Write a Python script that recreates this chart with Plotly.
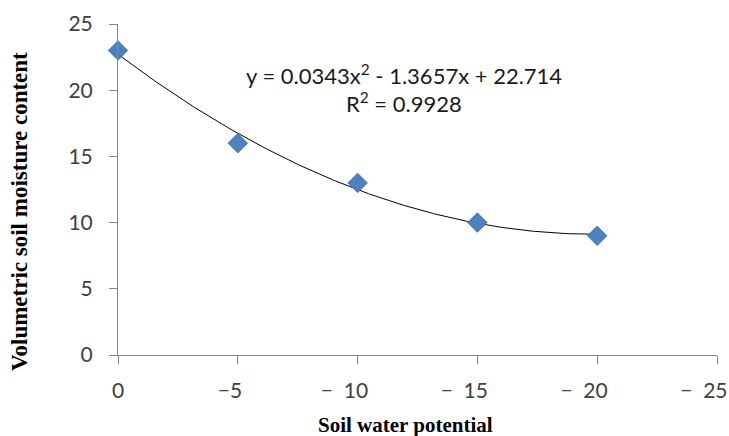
import numpy as np
import plotly.graph_objects as go

# Data
potential = [0, 5, 10, 15, 20]          # magnitude of soil water potential (shown as negative)
moisture = [23, 16, 13, 10, 9]
fit_coef = [0.0343, -1.3657, 22.714]    # trendline y = a x^2 + b x + c
r2 = 0.9928
x_ticks = [0, 5, 10, 15, 20, 25]
x_ticktext = ["0", "\u22125\u2003", "\u2212  10\u2003\u2002", "\u2212  15\u2003\u2002",
              "\u2212  20\u2003\u2002", "\u2212  25\u2003\u2002"]
y_ticks = [0, 5, 10, 15, 20, 25]

xs = np.linspace(min(potential), max(potential), 200)
ys = np.polyval(fit_coef, xs)

W, H = 729, 436
L, R, T, B = 118, 12, 24, 81

fig = go.Figure()
fig.add_trace(go.Scatter(x=xs, y=ys, mode="lines",
                         line=dict(color="black", width=1), hoverinfo="skip"))
fig.add_trace(go.Scatter(x=potential, y=moisture, mode="markers", cliponaxis=False,
                         marker=dict(symbol="diamond", size=15, color="#4F81BD",
                                     line=dict(color="#3A6A9E", width=0.8))))

tickfont = dict(family="Lato", size=21, color="#404040")
axis_common = dict(showgrid=False, zeroline=False, showline=True, linecolor="#868686",
                   linewidth=1, ticks="outside", ticklen=8, tickcolor="#868686",
                   tickfont=tickfont, automargin=False, ticklabeloverflow="allow")

fig.update_xaxes(range=[0, 25], tickmode="array", tickvals=x_ticks, ticktext=x_ticktext,
                 ticklabelstandoff=9, **axis_common)
fig.update_yaxes(range=[0, 25], tickmode="array", tickvals=y_ticks,
                 ticklabelstandoff=12, **axis_common)

a, b, c = fit_coef
eq_text = f"y = {a}x<sup>2</sup> - {abs(b)}x + {c}"
eq_font = dict(family="Lato", size=22, color="#1a1a1a")
fig.add_annotation(x=11.94, y=21.15, xref="x", yref="y", text=eq_text, showarrow=False,
                   font=eq_font)
fig.add_annotation(x=11.94, y=19.1, xref="x", yref="y", text=f"R<sup>2</sup> = {r2}",
                   showarrow=False, font=eq_font)

PW, PH = W - L - R, H - T - B
fig.add_annotation(x=(405 - L) / PW, y=(355 - 425) / PH, xref="paper", yref="paper",
                   xanchor="center", yanchor="middle",
                   text="<b>Soil water potential</b>", showarrow=False,
                   font=dict(family="Liberation Serif", size=21, color="black"))
fig.add_annotation(x=(20 - L) / PW, y=(355 - 212) / PH, xref="paper", yref="paper",
                   xanchor="center", yanchor="middle",
                   text="<b>Volumetric soil moisture content</b>",
                   showarrow=False, textangle=-90,
                   font=dict(family="Liberation Serif", size=23, color="black"))

fig.update_layout(width=W, height=H, margin=dict(l=L, r=R, t=T, b=B),
                  plot_bgcolor="white", paper_bgcolor="white", showlegend=False)

fig.write_html("out.html", config={"displayModeBar": False},
               post_script="document.body.style.margin='0px';document.body.style.overflow='hidden';")
